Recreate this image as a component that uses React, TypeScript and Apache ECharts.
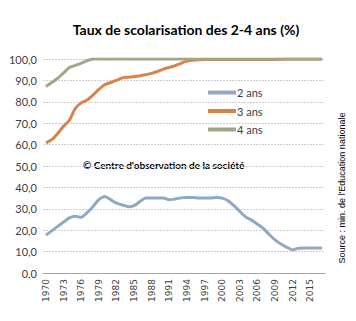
import React, { useEffect, useRef } from "react";
import * as echarts from "echarts";

const years: string[] = [];
for (let y = 1970; y <= 2017; y++) years.push(String(y));

const ans2 = [
  17.7, 19.7, 21.8, 23.8, 25.8, 26.5, 26.0, 28.2, 31.0, 34.3,
  35.7, 34.3, 32.6, 31.8, 31.0, 31.5, 33.4, 35.0, 35.0, 35.0,
  35.0, 34.2, 34.6, 35.1, 35.3, 35.3, 35.0, 35.0, 35.0, 35.3,
  35.0, 33.8, 31.5, 28.8, 26.2, 24.7, 22.8, 20.8, 18.0, 15.5,
  13.5, 12.0, 10.8, 11.6, 11.7, 11.7, 11.7, 11.7,
];
const ans3 = [
  60.8, 62.3, 65.2, 68.6, 71.4, 76.9, 79.5, 80.8, 83.1, 85.8,
  88.0, 89.0, 90.0, 91.2, 91.5, 91.7, 92.2, 92.7, 93.3, 94.2,
  95.3, 96.1, 96.9, 98.0, 99.0, 99.4, 99.7, 99.8, 99.8, 99.8,
  99.8, 99.8, 99.8, 99.8, 99.8, 99.8, 99.8, 99.8, 99.8, 99.8,
  99.9, 100, 100, 100, 100, 100, 100, 100,
];
const ans4 = [
  87.2, 89.0, 91.0, 93.5, 96.0, 97.0, 98.0, 99.2, 100, 100,
  100, 100, 100, 100, 100, 100, 100, 100, 100, 100,
  100, 100, 100, 100, 100, 100, 100, 100, 100, 100,
  100, 100, 100, 100, 100, 100, 100, 100, 100, 100,
  100, 100, 100, 100, 100, 100, 100, 100,
];
const seriesNames = ["2 ans", "3 ans", "4 ans"];
const colors = ["#8fa9c1", "#d8834a", "#a5a488"];

export default function App() {
  const ref = useRef<HTMLDivElement>(null);
  useEffect(() => {
    if (!ref.current) return;
    const chart = echarts.init(ref.current, null, { renderer: "svg" });
    const data = [ans2, ans3, ans4];
    chart.setOption({
      animation: false,
      backgroundColor: "#ffffff",
      title: {
        text: "Taux de scolarisation des 2-4 ans (%)",
        left: 181,
        textAlign: "center",
        top: 17,
        textStyle: { fontFamily: "Lato", fontSize: 14, fontWeight: "bold", color: "#000" },
      },
      grid: { left: 43, right: 31, top: 59, bottom: 48, containLabel: false },
      legend: {
        orient: "vertical",
        left: 203,
        top: 82,
        itemWidth: 28,
        itemHeight: 4,
        itemGap: 7.5,
        icon: "rect",
        data: seriesNames,
        textStyle: { fontFamily: "Lato", fontSize: 11, color: "#404040", padding: [0, 0, 0, -4] },
      },
      xAxis: {
        type: "category",
        data: years,
        boundaryGap: true,
        axisLine: { lineStyle: { color: "#a6a6a6" } },
        axisTick: { interval: 0, length: 4, lineStyle: { color: "#a6a6a6" } },
        axisLabel: {
          interval: 2,
          rotate: 90,
          fontFamily: "DejaVu Sans",
          fontSize: 9,
          color: "#404040",
          margin: 6,
        },
      },
      yAxis: {
        type: "value",
        min: 0,
        max: 100,
        interval: 10,
        axisLine: { show: false },
        axisTick: { show: false },
        axisLabel: {
          fontFamily: "Lato",
          fontSize: 11,
          color: "#404040",
          margin: 6,
          formatter: (v: number) => v.toFixed(1).replace(".", ","),
        },
        splitLine: { lineStyle: { color: "#cfcfcf", type: [2, 1] } },
      },
      graphic: [
        {
          type: "text",
          left: 83,
          top: 160,
          style: {
            text: "© Centre d'observation de la société",
            font: "bold 10px Lato",
            fill: "#000",
          },
        },
        {
          type: "text",
          x: 342,
          y: 188,
          rotation: Math.PI / 2,
          style: {
            text: "Source : min. de l'Education nationale",
            font: "9px 'Liberation Sans'",
            fill: "#000",
            align: "center",
            verticalAlign: "middle",
          },
        },
      ],
      series: data.map((d, i) => ({
        name: seriesNames[i],
        type: "line",
        data: d,
        symbol: "none",
        smooth: 0.2,
        lineStyle: { width: 3, color: colors[i] },
        itemStyle: { color: colors[i] },
        z: 2 + i,
      })),
    });
    return () => chart.dispose();
  }, []);
  return <div ref={ref} style={{ width: 356, height: 321, margin: -8 }} />;
}
